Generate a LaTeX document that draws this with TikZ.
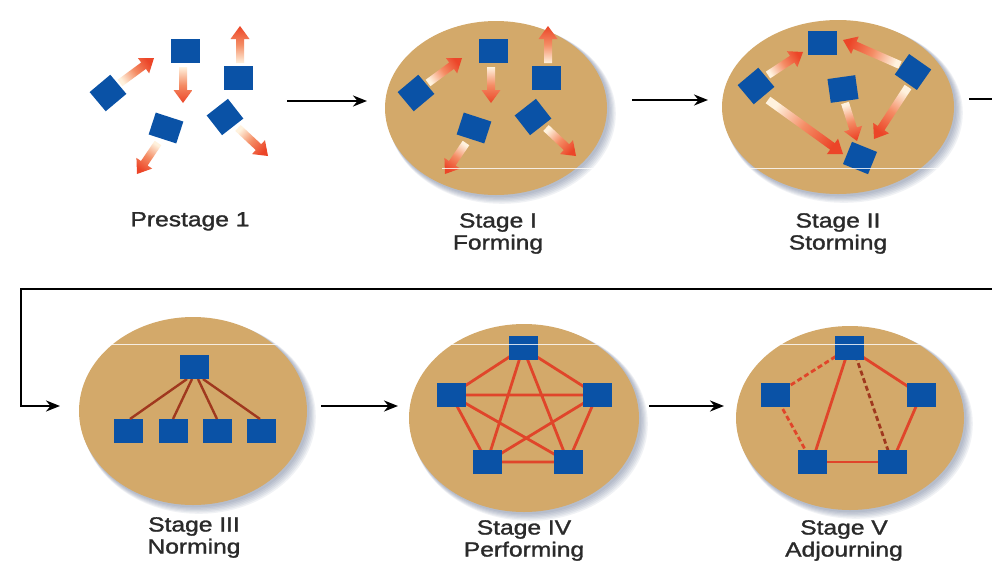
\documentclass[tikz,border=0pt]{standalone}
\usepackage{fontspec}
\setmainfont{Liberation Sans}
\newfontfamily\lblfont[FakeBold=1.3]{Liberation Sans}
\usetikzlibrary{shapes.geometric,arrows.meta,calc}
\definecolor{sqblue}{HTML}{0A52A6}
\definecolor{stagetan}{HTML}{D3A96A}
\definecolor{arrred}{HTML}{EC4528}
\definecolor{arrmid}{HTML}{F48C64}
\definecolor{arrpale}{HTML}{FFF2DE}
\definecolor{linkred}{HTML}{E0452A}
\definecolor{linkdark}{HTML}{A0381E}
\definecolor{shadowc}{HTML}{4A5A80}
\definecolor{txt}{HTML}{2A2A2A}
\tikzset{
  sq/.style={fill=sqblue, minimum width=29pt, minimum height=24pt, inner sep=0pt, outer sep=0pt},
  dsq/.style={fill=sqblue, minimum width=27pt, minimum height=25pt, inner sep=0pt, outer sep=0pt},
  stagebg/.style={ellipse, fill=stagetan, inner sep=0pt, outer sep=0pt},
  conn/.style={line width=2.4pt, black, line join=miter, -{Stealth[length=14pt,width=11pt]}},
  lbl/.style={font=\lblfont\fontsize{20.5}{22}\selectfont, text=txt, xscale=1.2, align=center, inner sep=0pt, anchor=north},
  link/.style={line width=2.8pt, linkred},
  linkh/.style={line width=2.4pt, linkdark},
  dlink/.style={line width=2.8pt, linkred, dash pattern=on 5pt off 3pt},
  dlinkd/.style={line width=2.8pt, linkdark, dash pattern=on 5pt off 3pt},
}
% fat shaded arrow from (#1,#2) to (#3,#4)
\newcommand\fatarrow[4]{%
  \pgfmathsetmacro\fatang{atan2((#2)-(#4),(#3)-(#1))-90}%
  \coordinate (fa) at (#1,#2);
  \coordinate (fb) at (#3,#4);
  \coordinate (fh) at ($(fb)!13pt!(fa)$);
  \shade[bottom color=arrpale, top color=arrred, middle color=arrmid, shading angle=\fatang]
    ($(fa)!4pt!90:(fb)$) -- ($(fh)!4pt!90:(fb)$) -- ($(fh)!9.5pt!90:(fb)$) -- (fb)
    -- ($(fh)!9.5pt!-90:(fb)$) -- ($(fh)!4pt!-90:(fb)$) -- ($(fa)!4pt!-90:(fb)$) -- cycle;
}
% ellipse with soft shadow: name, cx, cy, rx, ry
\newcommand\stageellipse[5]{%
  \foreach \d in {1,...,6}{%
    \fill[shadowc, opacity=0.08] ({#2+1+\d*0.8},{#3+1+\d*0.8}) ellipse ({(#4+\d*0.5)*1pt} and {(#5+\d*0.5)*1pt});
  }
  \node[stagebg, minimum width={2*#4pt}, minimum height={2*#5pt}] (#1) at (#2,#3) {};
}
% scattered team: x offset, name prefix
\newcommand\scatterteam[2]{%
  \fatarrow{#1+120}{83}{#1+154}{58}
  \fatarrow{#1+183}{67}{#1+183}{103}
  \fatarrow{#1+240}{63}{#1+240}{26}
  \fatarrow{#1+158}{143}{#1+137}{174}
  \fatarrow{#1+238}{128}{#1+268}{156}
  \node[sq] (#2t) at (#1+185,51) {};
  \node[sq] (#2r) at (#1+238,78) {};
  \node[dsq, rotate=40] (#2l) at (#1+108,93) {};
  \node[sq, minimum height=23pt, rotate=-18] (#2bl) at (#1+166,128) {};
  \node[dsq, rotate=38] (#2br) at (#1+225,117) {};
}
\begin{document}
\begin{tikzpicture}[x=1pt, y=-1pt]
\useasboundingbox (0,0) rectangle (992,560);
\fill[white] (0,0) rectangle (992,560);

% ---------- ellipses ----------
\stageellipse{s1}{496}{108}{111}{87}
\stageellipse{s2}{838}{107}{116}{87}
\stageellipse{s3}{193}{411}{114}{94}
\stageellipse{s4}{524}{418}{115}{94}
\stageellipse{s5}{850}{418}{114}{92}

% ---------- Prestage and Stage I ----------
\scatterteam{0}{p}
\scatterteam{308}{f}

% ---------- Stage II ----------
\fatarrow{768}{75}{803}{52}
\fatarrow{900}{65}{843}{40}
\fatarrow{768}{100}{843}{154}
\fatarrow{845}{103}{857}{141}
\fatarrow{908}{87}{874}{139}
\node[sq] (st) at (822,43) {};
\node[dsq, rotate=-35] (sr) at (913,72) {};
\node[dsq, rotate=40] (sl) at (756,86) {};
\node[sq, minimum width=28pt, minimum height=24pt, rotate=8] (sc) at (843,89) {};
\node[sq, minimum width=27pt, minimum height=24pt, rotate=-22] (sb) at (860,158) {};

% ---------- Stage III ----------
\node[sq] (nt) at (194,367) {};
\node[sq] (n1) at (128,431) {};
\node[sq] (n2) at (173,431) {};
\node[sq] (n3) at (217,431) {};
\node[sq] (n4) at (261,431) {};
\draw[linkh] ([xshift=-7pt]nt.south) -- ([xshift=2pt]n1.north);
\draw[linkh] ([xshift=-2pt]nt.south) -- (n2.north);
\draw[linkh] ([xshift=4pt]nt.south) -- (n3.north);
\draw[linkh] ([xshift=9pt]nt.south) -- ([xshift=-1pt]n4.north);
\node[sq] at (nt) {};

% ---------- Stage IV ----------
\coordinate (pt) at (523,348);
\coordinate (pl) at (451,395);
\coordinate (pr) at (597,395);
\coordinate (pbl) at (487,462);
\coordinate (pbr) at (568,462);
\draw[link] (pt) -- (pl) (pt) -- (pr) (pt) -- (pbl) (pt) -- (pbr)
            (pl) -- (pr) (pl) -- (pbl) (pl) -- (pbr)
            (pr) -- (pbl) (pr) -- (pbr) (pbl) -- (pbr);
\node[sq] (qt) at (pt) {};
\node[sq] (ql) at (pl) {};
\node[sq] (qr) at (pr) {};
\node[sq] (qbl) at (pbl) {};
\node[sq] (qbr) at (pbr) {};

% ---------- Stage V ----------
\coordinate (at) at (849,348);
\coordinate (al) at (775,395);
\coordinate (ar) at (921,395);
\coordinate (abl) at (812,462);
\coordinate (abr) at (892,462);
\draw[dlink] (at) -- (al);
\draw[dlink] (al) -- (abl);
\draw[link] (at) -- (abl);
\draw[dlinkd] ([xshift=4pt]at) -- (abr);
\draw[link] (at) -- (ar);
\draw[link] (ar) -- (abr);
\draw[link] (abl) -- (abr);
\node[sq] (vt) at (at) {};
\node[sq] (vl) at (al) {};
\node[sq] (vr) at (ar) {};
\node[sq] (vbl) at (abl) {};
\node[sq] (vbr) at (abr) {};

% ---------- scan lines ----------
\draw[white, line width=0.7pt, opacity=0.8] (442,168) -- (992,168);
\draw[white, line width=0.7pt, opacity=0.8] (20,344) -- (992,344);

% ---------- connectors ----------
\coordinate (c0s) at (287,101); \coordinate (c0e) at (367,101);
\coordinate (c1s) at (632,100); \coordinate (c1e) at (708,100);
\coordinate (c2s) at (969,99);
\coordinate (c2a) at (1004,99); \coordinate (c2b) at (1004,289);
\coordinate (c2c) at (21,289); \coordinate (c2d) at (21,406);
\coordinate (c2e) at (60,406);
\coordinate (c3s) at (321,406); \coordinate (c3e) at (398,406);
\coordinate (c4s) at (649,406); \coordinate (c4e) at (724,406);
\draw[conn] (c0s) -- (c0e);
\draw[conn] (c1s) -- (c1e);
\draw[conn] (c2s) -- (c2a) -- (c2b) -- (c2c) -- (c2d) -- (c2e);
\draw[conn] (c3s) -- (c3e);
\draw[conn] (c4s) -- (c4e);

% ---------- labels ----------
\node[lbl] (l0) at (190,212) {Prestage 1};
\node[lbl] (l1) at (498,213) {Stage I\\Forming};
\node[lbl] (l2) at (838,213) {Stage II\\Storming};
\node[lbl] (l3) at (194,517) {Stage III\\Norming};
\node[lbl] (l4) at (524,520) {Stage IV\\Performing};
\node[lbl] (l5) at (844,520) {Stage V\\Adjourning};
\end{tikzpicture}
\end{document}
